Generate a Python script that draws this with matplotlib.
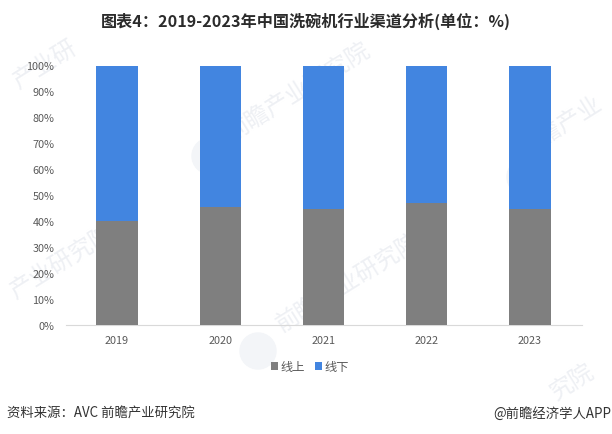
import matplotlib
matplotlib.use('Agg')
import matplotlib.pyplot as plt
from matplotlib.patches import Ellipse

plt.rcParams['font.family'] = ['Noto Sans CJK SC', 'DejaVu Sans']

years = ['2019', '2020', '2021', '2022', '2023']
online = [39.9, 45.4, 44.5, 47.1, 44.5]
offline = [60.1, 54.6, 55.5, 52.9, 55.5]
yticks = [0, 10, 20, 30, 40, 50, 60, 70, 80, 90, 100]
ytick_labels = ['0%', '10%', '20%', '30%', '40%', '50%', '60%', '70%', '80%', '90%', '100%']

GRAY = '#7f7f7f'
BLUE = '#4285e0'
WM = '#eef0f4'
W, H = 612, 435

fig = plt.figure(figsize=(W / 100, H / 100), dpi=100)
ax = fig.add_axes([65.5 / W, 1 - 325.5 / H, 516 / W, 259 / H])

x = range(len(years))
ax.bar(x, online, width=0.4, color=GRAY, label='线上', zorder=3)
ax.bar(x, offline, width=0.4, bottom=online, color=BLUE, label='线下', zorder=3)

ax.set_xlim(-0.5, 4.5)
ax.set_ylim(0, 100)
ax.set_xticks(list(x))
ax.set_xticklabels(years)
ax.set_yticks(yticks)
ax.set_yticklabels(ytick_labels)
ax.tick_params(axis='both', length=0, labelsize=7.8, labelcolor='#595959')
ax.tick_params(axis='x', pad=7.5)
ax.tick_params(axis='y', pad=8)
for s in ['top', 'right', 'left']:
    ax.spines[s].set_visible(False)
ax.spines['bottom'].set_color('#d9d9d9')
ax.patch.set_alpha(0)

# watermark, behind the axes
marks = [('前瞻产业研究院', 298, 92), ('前瞻产业研究院', 348, 283), ('产业研究院', 62, 262),
         ('产业研', 45, 65), ('前瞻产业', 560, 127), ('究院', 572, 382)]
for txt, mx, my in marks:
    fig.text(mx / W, 1 - my / H, txt, fontsize=17, color=WM, rotation=32,
             ha='center', va='center', zorder=-1)
for cx, cy in [(210, 157), (525, 178), (258, 352)]:
    fig.add_artist(Ellipse((cx / W, 1 - cy / H), 36 / W, 36 / H, transform=fig.transFigure,
                           color='#f3f5f8', zorder=-1))

fig.text(306 / W, 1 - 21 / H, '图表4：2019-2023年中国洗碗机行业渠道分析(单位：%)', fontsize=11.6,
         fontweight='bold', color='#2b2b2b', ha='center', va='center')

fig.legend(loc='center', bbox_to_anchor=(310 / W, 1 - 368 / H), ncol=2, frameon=False, fontsize=8.8,
           labelcolor='#595959', handlelength=0.6, handleheight=0.6, handletextpad=0.2, columnspacing=0.8)

fig.text(7 / W, 1 - 414 / H, '资料来源：AVC 前瞻产业研究院', fontsize=9.6, color='#333333', ha='left', va='center')
fig.text(611 / W, 1 - 414 / H, '@前瞻经济学人APP', fontsize=9.6, color='#333333', ha='right', va='center')

fig.savefig('out.png', dpi=100)
